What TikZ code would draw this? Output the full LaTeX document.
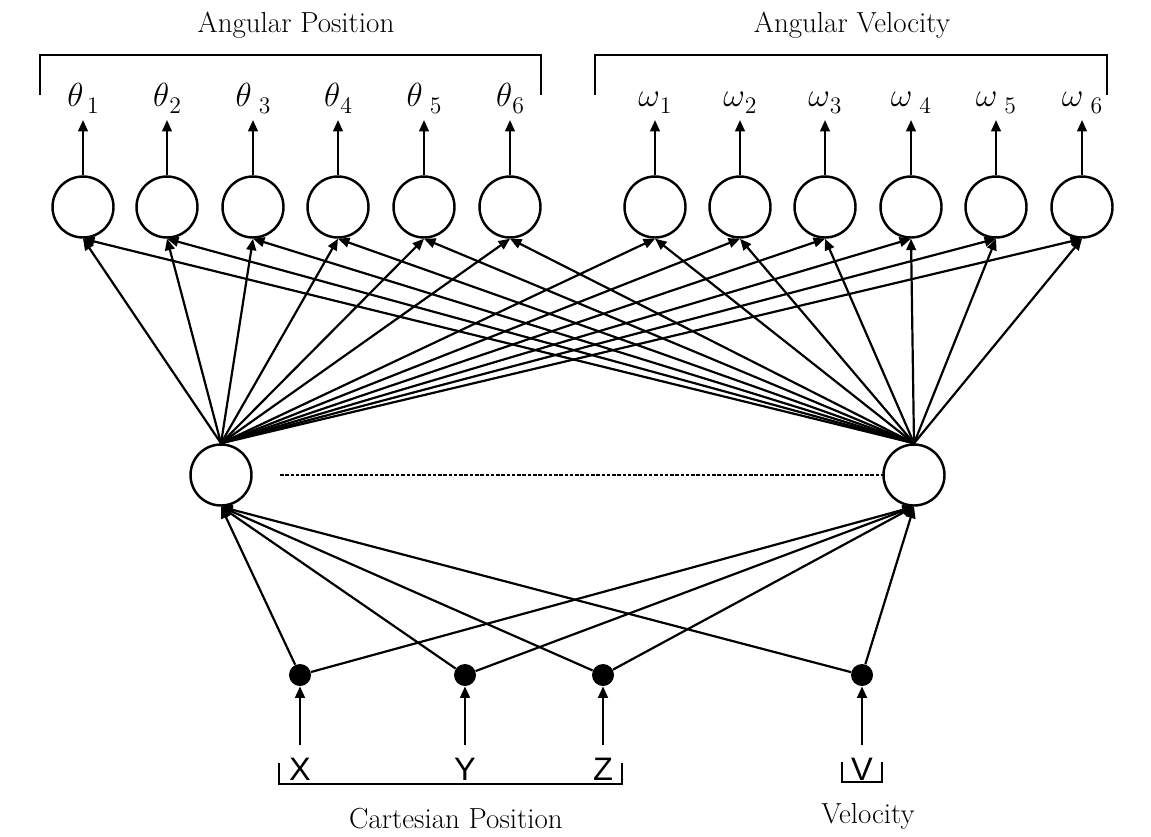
\RequirePackage{fix-cm}
\documentclass[tikz,border=0pt]{standalone}
\usepackage{fontspec}
\usepackage{amsmath}
\usepackage{tikz}
\usetikzlibrary{
	arrows.meta, positioning, calc
}
\newfontfamily\letterfont{Liberation Sans}
\newcommand{\outsym}[3]{$#1$\hspace{#2}\raisebox{-4.5pt}{\fontsize{13.5}{15}\selectfont #3}}

\begin{document}
\begin{tikzpicture}[x=0.02cm,y=-0.02cm,
		neuron/.style={draw,circle,line width=1.4pt,minimum size=1.22cm,inner sep=0pt},
		inputdot/.style={fill,circle,minimum size=0.44cm,inner sep=0pt},
		link/.style={line width=1.25pt,-{Triangle[length=6.5pt,width=5.5pt]}},
		brack/.style={line width=0.6pt},
		caption/.style={anchor=base,font=\fontsize{16.5}{19}\selectfont},
		outlabel/.style={anchor=base,inner sep=0pt,font=\fontsize{19}{22}\selectfont},
		letter/.style={anchor=base,inner sep=0pt,font=\letterfont\fontsize{18.5}{22}\selectfont}]
	\useasboundingbox (0,0) rectangle (1151,836);
	% output layer
	\foreach \i/\x/\g in {1/83/2pt,2/167/0pt,3/253/4pt,4/338/0pt,5/424/4pt,6/510/0pt}{
		\node[neuron] (t\i) at (\x,207) {};
		\node[outlabel] (tl\i) at (\x,106) {\outsym{\theta}{\g}{\i}};
		\coordinate (ta\i) at (\x,120);
		\draw[link] (t\i.north) -- (ta\i);
	}
	\foreach \i/\x/\g in {1/655/0pt,2/740/0pt,3/825/0pt,4/911/4pt,5/996/4pt,6/1082/4pt}{
		\node[neuron] (w\i) at (\x,207) {};
		\node[outlabel] (wl\i) at (\x,106) {\outsym{\omega}{\g}{\i}};
		\coordinate (wa\i) at (\x,120);
		\draw[link] (w\i.north) -- (wa\i);
	}
	\draw[brack] (40,95) |- (541,55) -- (541,95);
	\draw[brack] (595,95) |- (1107,55) -- (1107,95);
	\node[caption] (apos) at (296,32) {Angular Position};
	\node[caption] (avel) at (852,32) {Angular Velocity};
	% hidden layer
	\node[neuron] (h1) at (221,475) {};
	\node[neuron] (h2) at (914,475) {};
	\coordinate (d1) at (280,475);
	\coordinate (d2) at (885,475);
	\draw[line width=1pt,dash pattern=on 2pt off 1pt] (d1) -- (d2);
	\foreach \h in {h1,h2}
		\foreach \o in {t1,t2,t3,t4,t5,t6,w1,w2,w3,w4,w5,w6}
			\draw[link] (\h.north) -- (\o.south);
	% input layer
	\foreach \n/\x/\l in {x/300/X,y/465/Y,z/603/Z,v/862/V}{
		\node[inputdot] (\n) at (\x,675) {};
		\node[letter] (\n l) at (\x,780) {\l};
		\coordinate (\n a) at (\x,745);
		\draw[link] (\n a) -- (\n);
		\draw[link] (\n) -- (h1.south);
		\draw[link] (\n) -- (h2.south);
	}
	\draw[brack] (279,763) |- (622,784) -- (622,763);
	\draw[brack] (842,762) |- (882,782) -- (882,762);
	\node[caption] (cpos) at (456,828) {Cartesian Position};
	\node[caption] (vel) at (868,823) {Velocity};
\end{tikzpicture}
\end{document}
